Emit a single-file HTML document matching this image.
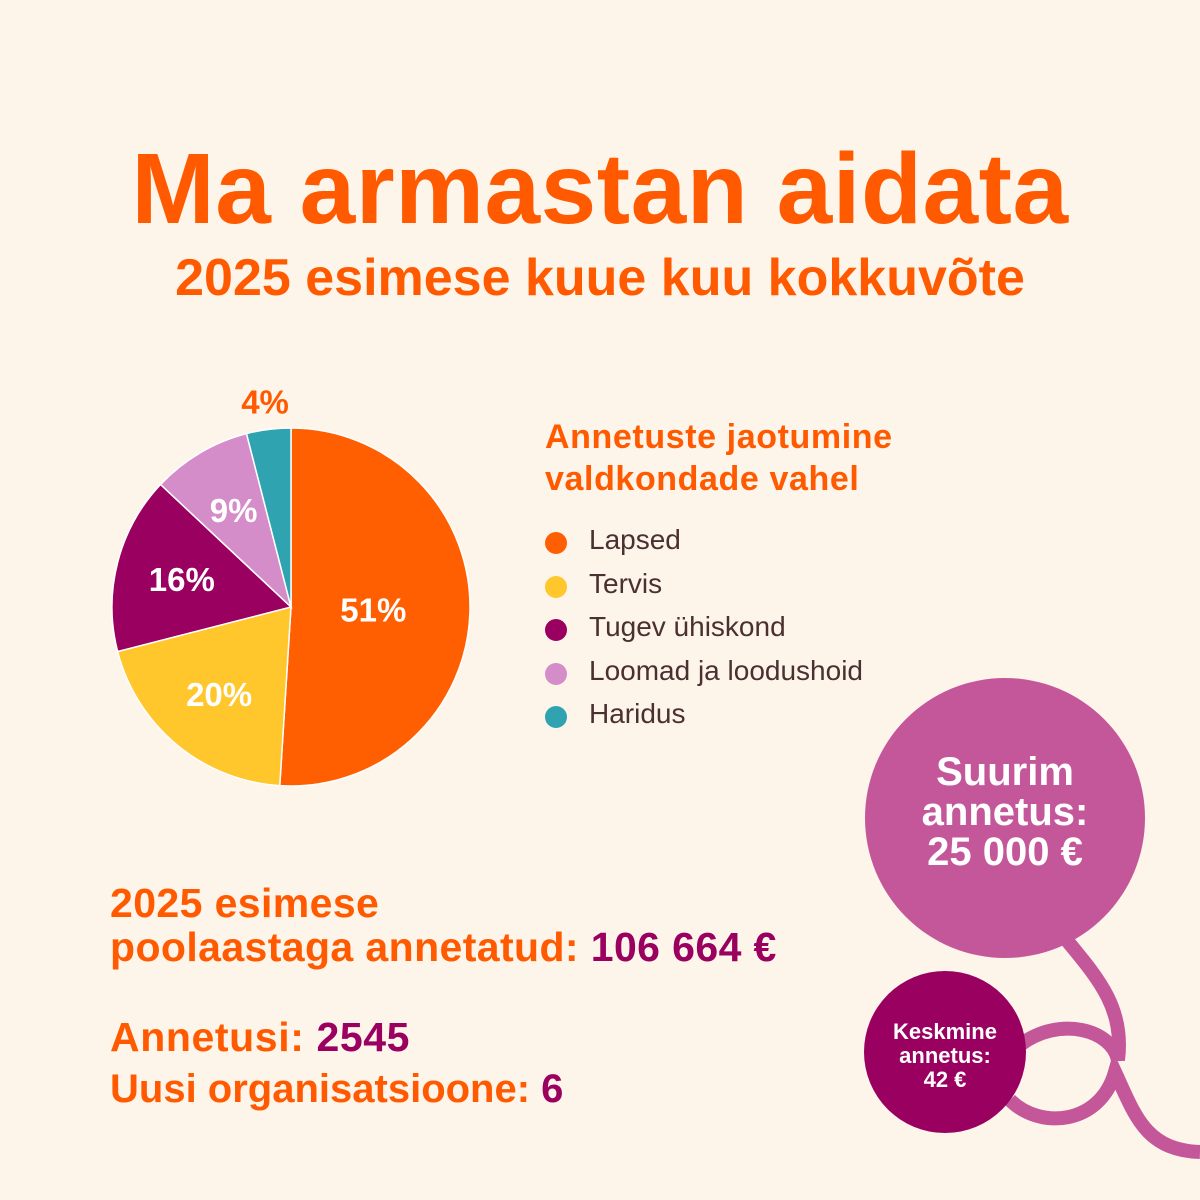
<!DOCTYPE html>
<html><head><meta charset="utf-8"><style>
body{margin:0;background:#FDF4EA;}
#root{position:relative;width:1200px;height:1200px;background:#FDF4EA;font-family:"Liberation Sans",sans-serif;overflow:hidden}
.t{position:absolute;font-weight:bold;color:#FF5A00;white-space:nowrap}
.leg{position:absolute;left:545px;font-size:28px;color:#4a3030}
.dot{position:absolute;left:545px;width:22px;height:22px;border-radius:50%}
</style></head><body>
<div id="root">
<div class="t" style="left:0;width:1200px;text-align:center;top:132px;font-size:100px;letter-spacing:0.5px">Ma armastan aidata</div>
<div class="t" style="left:0;width:1200px;text-align:center;top:248px;font-size:52px">2025 esimese kuue kuu kokkuvõte</div>
<svg id="pie" width="1200" height="1200" style="position:absolute;left:0;top:0"></svg>
<div class="t" style="left:545px;top:416px;font-size:34px;letter-spacing:0.6px;line-height:42px">Annetuste jaotumine<br>valdkondade vahel</div>
<div id="legend"></div>
<svg width="1200" height="1200" style="position:absolute;left:0;top:0">
<path d="M1060,932 C1095,975 1125,1005 1118,1060 C1112,1030 1060,1015 1020,1045 M1010,1100 C1040,1130 1100,1125 1115,1072 C1135,1115 1145,1150 1200,1152" fill="none" stroke="#C4579A" stroke-width="14"/>
<circle cx="1005" cy="818" r="140" fill="#C4579A"/>
<circle cx="945" cy="1052" r="81" fill="#990060"/>
</svg>
<div class="t" style="left:865px;width:280px;text-align:center;top:752px;font-size:40px;line-height:40px;color:#fff">Suurim<br>annetus:<br>25 000 €</div>
<div class="t" style="left:864px;width:162px;text-align:center;top:1020px;font-size:22px;line-height:24px;color:#fff">Keskmine<br>annetus:<br>42 €</div>
<div class="t" style="left:110px;top:881px;font-size:41px;letter-spacing:0.4px;line-height:44px">2025 esimese<br>poolaastaga annetatud: <span style="color:#990060">106 664 €</span></div>
<div class="t" style="left:110px;top:1014px;font-size:41px;letter-spacing:0.6px">Annetusi: <span style="color:#990060">2545</span></div>
<div class="t" style="left:110px;top:1067px;font-size:40px">Uusi organisatsioone: <span style="color:#990060">6</span></div>
</div>
<script>
const categories=["Lapsed","Tervis","Tugev ühiskond","Loomad ja loodushoid","Haridus"];
const values=[51,20,16,9,4];
const colors=["#FF5F00","#FFC72C","#990060","#D48DC8","#2FA3B0"];
const labels=["51%","20%","16%","9%","4%"];
const svg=document.getElementById('pie');const NS="http://www.w3.org/2000/svg";
const cx=291,cy=607,R=179;const tot=values.reduce((a,b)=>a+b,0);
let a0=0;
values.forEach((v,i)=>{
 const a1=a0+v/tot*2*Math.PI;
 const p=(a)=>[cx+R*Math.sin(a),cy-R*Math.cos(a)];
 const [x0,y0]=p(a0),[x1,y1]=p(a1);
 const path=document.createElementNS(NS,'path');
 path.setAttribute('d',`M${cx},${cy} L${x0},${y0} A${R},${R} 0 ${a1-a0>Math.PI?1:0} 1 ${x1},${y1} Z`);
 path.setAttribute('fill',colors[i]);path.setAttribute('stroke','#fff');path.setAttribute('stroke-width','1.5');
 
 
 svg.appendChild(path);
 const am=(a0+a1)/2;const out=v<6;const rr=out?R+28:(v>40?R*0.46:R*0.63);
 const t=document.createElementNS(NS,'text');
 t.setAttribute('x',cx+rr*Math.sin(am));t.setAttribute('y',cy-rr*Math.cos(am)+12);
 t.setAttribute('text-anchor','middle');t.setAttribute('font-size','33');t.setAttribute('font-weight','bold');
 t.setAttribute('font-family','Liberation Sans, sans-serif');t.setAttribute('fill',out?'#FF5A00':'#fff');
 t.textContent=labels[i];
 
 
 svg.appendChild(t);
 a0=a1;
});
const lg=document.getElementById('legend');
categories.forEach((c,i)=>{
 const y=530+i*43.5;
 const d=document.createElement('div');d.className='dot';d.style.top=(y+2)+'px';d.style.background=colors[i];
 
 
 lg.appendChild(d);
 const s=document.createElement('div');s.className='leg';s.style.left='589px';s.style.top=(y-6)+'px';s.textContent=c;
 
 
 lg.appendChild(s);
});
</script>
</body></html>
